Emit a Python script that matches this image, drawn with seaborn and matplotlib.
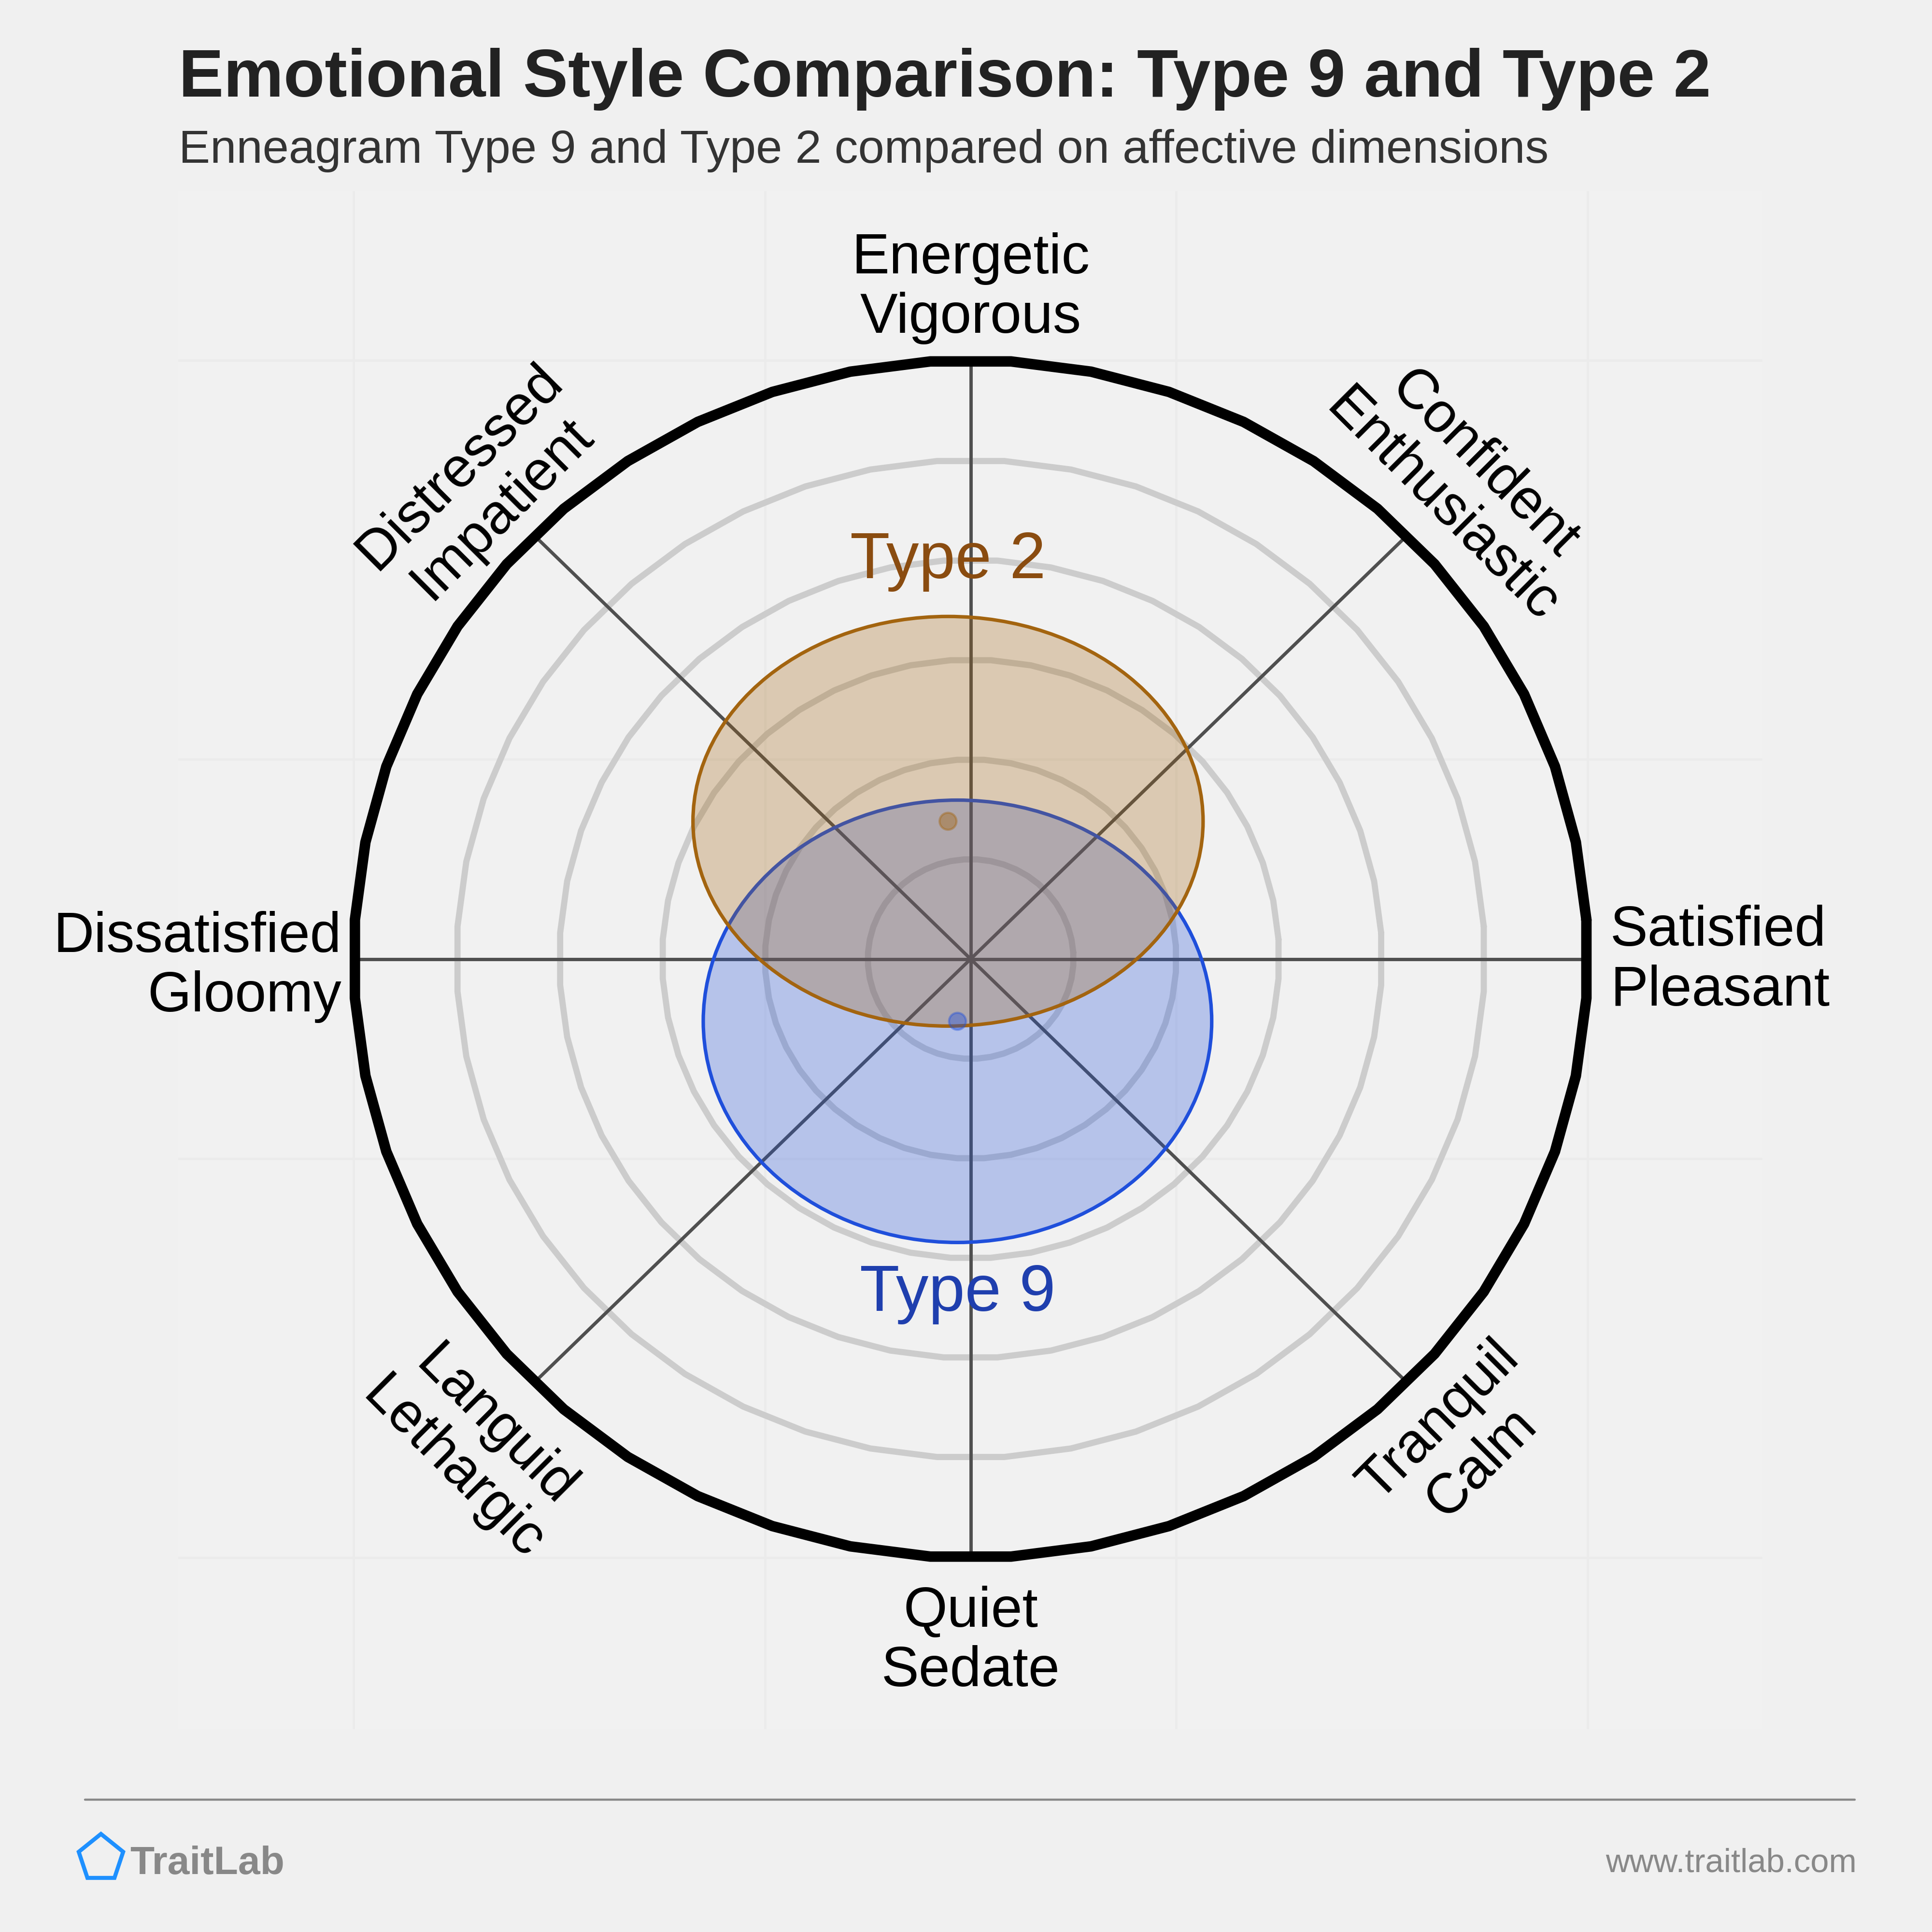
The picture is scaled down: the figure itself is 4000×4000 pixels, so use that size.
""" emotional style comparison plot """

import matplotlib.pyplot as plt
import numpy as np
import pandas as pd
import seaborn as sns
from matplotlib.patches import Ellipse, Polygon

# dimensions of the circumplex, counter-clockwise from the right
dimension_labels = ["Satisfied\nPleasant", "Confident\nEnthusiastic",
                    "Energetic\nVigorous", "Distressed\nImpatient",
                    "Dissatisfied\nGloomy", "Languid\nLethargic",
                    "Quiet\nSedate", "Tranquil\nCalm"]
dimension_angles = [0, 45, 90, 135, 180, 225, 270, 315]

ring_radii = [0.25, 0.5, 0.75, 1.0, 1.25]
outer_radius = 1.5

# the two types: centre and spread of each ellipse
type_names = ["Type 9", "Type 2"]
type_center_x = [-0.032, -0.055]
type_center_y = [-0.156, 0.345]
type_spread_x = [0.618, 0.620]
type_spread_y = [0.554, 0.513]

type_edge = ["#1f4fdb", "#a3640f"]
type_text = ["#1f3fae", "#8a4c10"]
type_label_dy = [-0.683, 0.651]

sns.set_theme(style="whitegrid", rc={
    "figure.facecolor": "#f0f0f0",
    "axes.facecolor": "#f1f1f1",
    "grid.color": "#ebebeb",
    "grid.linewidth": 0.9,
})
plt.rcParams["font.family"] = ["Liberation Sans", "DejaVu Sans"]

fig = plt.figure(figsize=(10, 10), dpi=400)
ax = fig.add_axes([0.0923, 0.105, 0.82, 0.796])
ax.set_xlim(-1.926, 1.925)
ax.set_ylim(-1.929, 1.923)
ax.set_xticks([-1.5, -0.5, 0.5, 1.5])
ax.set_yticks([-1.5, -0.5, 0.5, 1.5])
ax.tick_params(length=0, labelbottom=False, labelleft=False)
for spine in ax.spines.values():
    spine.set_visible(False)

# rings as polygons
theta = np.deg2rad(np.arange(0, 361, 7.5) + 3.75)
rows = []
for r in ring_radii + [outer_radius]:
    for t in theta:
        rows.append({"ring": r, "x": r * np.cos(t), "y": r * np.sin(t)})
rings = pd.DataFrame(rows)
sns.lineplot(data=rings[rings["ring"] < outer_radius], x="x", y="y",
             units="ring", estimator=None, sort=False, color="#cccccc",
             lw=2.3, ax=ax, zorder=2)
sns.lineplot(data=rings[rings["ring"] == outer_radius], x="x", y="y",
             units="ring", estimator=None, sort=False, color="black",
             lw=3.9, ax=ax, zorder=4)

# spokes
for ang in dimension_angles:
    a = np.deg2rad(ang)
    ax.plot([0, outer_radius * np.cos(a)], [0, outer_radius * np.sin(a)],
            color="#4f4f4f", lw=1.25, zorder=3)

# ellipses
for i, name in enumerate(type_names):
    ax.add_patch(Ellipse((type_center_x[i], type_center_y[i]),
                         2 * type_spread_x[i], 2 * type_spread_y[i],
                         facecolor=type_edge[i], alpha=0.28, lw=0,
                         zorder=5 + 2 * i))
    ax.add_patch(Ellipse((type_center_x[i], type_center_y[i]),
                         2 * type_spread_x[i], 2 * type_spread_y[i],
                         facecolor="none", edgecolor=type_edge[i], lw=1.3,
                         zorder=6 + 2 * i))
    ax.text(type_center_x[i], type_center_y[i] + type_label_dy[i], name,
            color=type_text[i], fontsize=24.3, ha="center", va="center",
            zorder=10)

centers = pd.DataFrame({"type": type_names, "x": type_center_x,
                        "y": type_center_y})
sns.scatterplot(data=centers, x="x", y="y", hue="type",
                palette=dict(zip(type_names, type_edge)), s=40, alpha=0.4,
                edgecolor=type_edge, linewidth=0.8, legend=False, ax=ax,
                zorder=11)
ax.set_xlabel("")
ax.set_ylabel("")

# dimension labels
label_pos = {
    "Satisfied\nPleasant": (1.555, -0.005, 0, "left", "left"),
    "Confident\nEnthusiastic": (1.196, 1.187, -45, "center", "center"),
    "Energetic\nVigorous": (0.0, 1.68, 0, "center", "center"),
    "Distressed\nImpatient": (-1.19, 1.18, 45, "center", "center"),
    "Dissatisfied\nGloomy": (-1.529, -0.02, 0, "right", "right"),
    "Languid\nLethargic": (-1.207, -1.224, -45, "center", "center"),
    "Quiet\nSedate": (0.0, -1.71, 0, "center", "center"),
    "Tranquil\nCalm": (1.19, -1.21, 45, "center", "center"),
}
for lab in dimension_labels:
    x, y, rot, ha, ma = label_pos[lab]
    ax.text(x, y, lab, fontsize=21, color="black", rotation=rot, ha=ha,
            va="center", multialignment=ma, linespacing=1.17, zorder=12)

# titles
fig.text(0.0925, 0.95, "Emotional Style Comparison: Type 9 and Type 2",
         fontsize=25.1, fontweight="bold", color="#222222", va="baseline")
fig.text(0.0925, 0.9158,
         "Enneagram Type 9 and Type 2 compared on affective dimensions",
         fontsize=17.55, color="#333333", va="baseline")

# footer
fig.add_artist(plt.Line2D([0.044, 0.96], [0.0685, 0.0685], color="#888888",
                          lw=0.8, transform=fig.transFigure))
pent = np.array([[209, 3797], [255, 3834], [237, 3888], [181, 3888],
                 [163, 3834]], dtype=float)
pent[:, 0] /= 4000
pent[:, 1] = 1 - pent[:, 1] / 4000
fig.add_artist(Polygon(pent, closed=True, fill=False, edgecolor="#1e90ff",
                       lw=1.5, transform=fig.transFigure))
fig.text(0.0672, 0.03, "TraitLab", fontsize=14.8, fontweight="bold",
         color="#888888", va="baseline")
fig.text(0.961, 0.031, "www.traitlab.com", fontsize=12.4, color="#888888",
         ha="right", va="baseline")

fig.savefig("out.png", dpi=400, facecolor=fig.get_facecolor())
